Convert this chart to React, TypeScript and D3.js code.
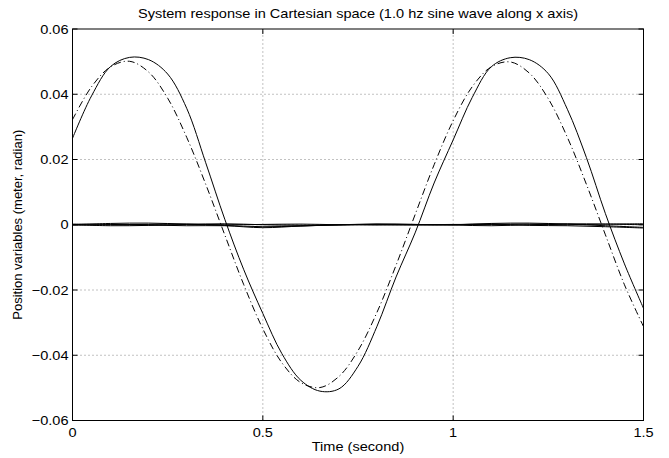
import React from "react";
import * as d3 from "d3";

const W = 669;
const H = 458;
const margin = { left: 72.5, right: 25.5, top: 29, bottom: 37.5 };

const title = "System response in Cartesian space (1.0 hz sine wave along x axis)";
const xLabel = "Time (second)";
const yLabel = "Position variables (meter, radian)";

const xTicks = [0, 0.5, 1, 1.5];
const xTickLabels = ["0", "0.5", "1", "1.5"];
const yTicks = [-0.06, -0.04, -0.02, 0, 0.02, 0.04, 0.06];
const yTickLabels = ["\u22120.06", "\u22120.04", "\u22120.02", "0", "0.02", "0.04", "0.06"];

// time samples (seconds) for the main curves
const tMain = [
  0, 0.05, 0.1, 0.15, 0.2, 0.25, 0.3, 0.35, 0.4, 0.45, 0.5, 0.55, 0.6, 0.65, 0.7, 0.75,
  0.8, 0.85, 0.9, 0.95, 1.0, 1.05, 1.1, 1.15, 1.2, 1.25, 1.3, 1.35, 1.4, 1.45, 1.5,
];

// actual x response (solid)
const actualX = [
  0.0265, 0.0395, 0.0485, 0.0513, 0.0506, 0.0462, 0.0357, 0.019, 0.0017, -0.0138, -0.0272,
  -0.0395, -0.0477, -0.0510, -0.0503, -0.0434, -0.0311, -0.016, -0.0025, 0.0128, 0.026,
  0.039, 0.0484, 0.0512, 0.0506, 0.0463, 0.0354, 0.0206, 0.0034, -0.012, -0.0256,
];

// desired x trajectory (dash-dot)
const desiredX = [
  0.0322, 0.0423, 0.0484, 0.0501, 0.0468, 0.0388, 0.0268, 0.0124, -0.0031, -0.0184, -0.0319,
  -0.0423, -0.0484, -0.0499, -0.0465, -0.0386, -0.0268, -0.0124, 0.0031, 0.0184, 0.0319,
  0.0423, 0.0484, 0.0499, 0.0465, 0.0386, 0.0268, 0.0124, -0.0031, -0.0184, -0.0312,
];

// other (near-zero) position variables
const tSmall = [0, 0.1, 0.2, 0.3, 0.4, 0.5, 0.6, 0.7, 0.8, 0.9, 1.0, 1.1, 1.2, 1.3, 1.4, 1.5];
const small1 = [0, 0.0004, 0.0005, 0.0002, -0.0002, -0.0006, -0.0004, 0, 0.0002, 0.0001, 0, 0.0004, 0.0005, 0.0002, -0.0003, -0.0008];
const small2 = [0, -0.0003, -0.0002, 0.0001, 0.0003, 0, -0.0002, -0.0001, 0.0002, 0.0001, -0.0001, -0.0003, 0, 0.0003, 0.0002, 0];
const small3 = [0.0002, 0.0001, -0.0001, -0.0003, -0.0003, -0.0009, -0.0004, 0, 0.0001, -0.0001, 0, 0.0002, -0.0002, -0.0003, -0.0006, -0.001];
const small4 = [-0.0001, 0, 0.0001, 0.0002, 0, 0.0001, 0.0002, 0, -0.0001, 0, 0.0001, 0.0001, 0.0002, 0, 0.0002, 0.0003];

const FONT = "'Liberation Sans', Arial, Helvetica, sans-serif";
const FS = 13;
const SX = 1.12;

function HText(props: { x: number; y: number; anchor: string; children: React.ReactNode }) {
  return (
    <text
      transform={`translate(${props.x},${props.y}) scale(${SX},1)`}
      textAnchor={props.anchor}
      fontSize={FS}
      fill="#000"
    >
      {props.children}
    </text>
  );
}

export default function App() {
  const x = d3.scaleLinear().domain([0, 1.5]).range([margin.left, W - margin.right]);
  const y = d3.scaleLinear().domain([-0.06, 0.06]).range([H - margin.bottom, margin.top]);
  const x0 = x.range()[0], x1 = x.range()[1];
  const y0 = y.range()[0], y1 = y.range()[1];

  const line = d3
    .line<[number, number]>()
    .x((d) => x(d[0]))
    .y((d) => y(d[1]))
    .curve(d3.curveCatmullRom.alpha(0.5));

  const pts = (ts: number[], vs: number[]) => ts.map((t, i) => [t, vs[i]] as [number, number]);

  const smalls = [small1, small2, small3, small4];
  const tick = 5;

  return (
    <svg
      width={W}
      height={H}
      style={{ position: "absolute", left: 0, top: 0, background: "#fff" }}
      fontFamily={FONT}
    >
      <rect x={0} y={0} width={W} height={H} fill="#fff" />
      {/* grid */}
      {xTicks.slice(1, -1).map((t) => (
        <line key={"gx" + t} x1={x(t)} x2={x(t)} y1={y0} y2={y1} stroke="#666" strokeWidth={0.8} strokeDasharray="1 3" />
      ))}
      {yTicks.slice(1, -1).map((t) => (
        <line key={"gy" + t} x1={x0} x2={x1} y1={y(t)} y2={y(t)} stroke="#666" strokeWidth={0.8} strokeDasharray="1 3" />
      ))}
      {/* data */}
      {smalls.map((s, i) => (
        <path key={"s" + i} d={line(pts(tSmall, s)) || ""} fill="none" stroke="#000" strokeWidth={1} />
      ))}
      <path d={line(pts(tMain, desiredX)) || ""} fill="none" stroke="#000" strokeWidth={1} strokeDasharray="7 3 1 3" />
      <path d={line(pts(tMain, actualX)) || ""} fill="none" stroke="#000" strokeWidth={1} />
      {/* frame */}
      <rect x={x0} y={y1} width={x1 - x0} height={y0 - y1} fill="none" stroke="#000" strokeWidth={1} />
      {/* ticks */}
      {xTicks.map((t) => (
        <g key={"tx" + t}>
          <line x1={x(t)} x2={x(t)} y1={y0} y2={y0 - tick} stroke="#000" />
          <line x1={x(t)} x2={x(t)} y1={y1} y2={y1 + tick} stroke="#000" />
        </g>
      ))}
      {yTicks.map((t) => (
        <g key={"ty" + t}>
          <line x1={x0} x2={x0 + tick} y1={y(t)} y2={y(t)} stroke="#000" />
          <line x1={x1} x2={x1 - tick} y1={y(t)} y2={y(t)} stroke="#000" />
        </g>
      ))}
      {/* tick labels */}
      {xTicks.map((t, i) => (
        <HText key={"lx" + t} x={x(t)} y={y0 + 16.5} anchor="middle">
          {xTickLabels[i]}
        </HText>
      ))}
      {yTicks.map((t, i) => (
        <HText key={"ly" + t} x={x0 - 4} y={y(t) + 4.5} anchor="end">
          {yTickLabels[i]}
        </HText>
      ))}
      {/* titles */}
      <HText x={(x0 + x1) / 2} y={18} anchor="middle">
        {title}
      </HText>
      <HText x={(x0 + x1) / 2} y={451} anchor="middle">
        {xLabel}
      </HText>
      <text
        transform={`translate(22, ${(y0 + y1) / 2}) rotate(-90)`}
        textAnchor="middle"
        fontSize={FS}
        fill="#000"
      >
        {yLabel}
      </text>
    </svg>
  );
}
